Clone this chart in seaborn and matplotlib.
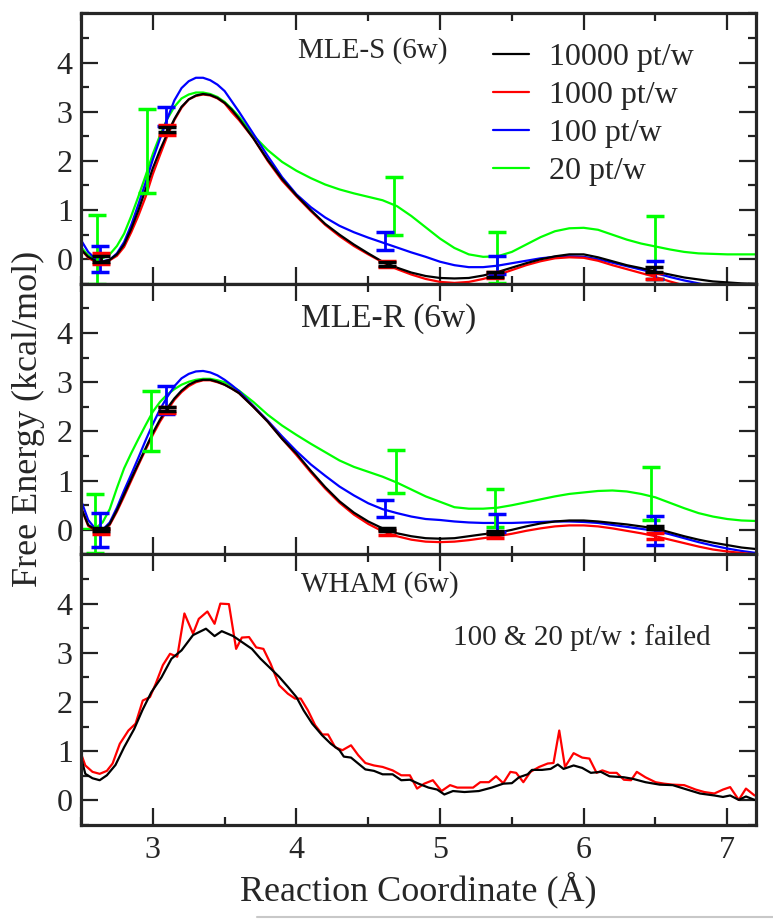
import pandas as pd
import matplotlib
matplotlib.use('Agg')
import matplotlib.pyplot as plt
import seaborn as sns
from matplotlib.lines import Line2D
from matplotlib.ticker import MultipleLocator, FixedLocator

# series names and colours (xmgrace style)
series = ['10000 pt/w', '1000 pt/w', '100 pt/w', '20 pt/w']
palette = {'10000 pt/w': '#000000', '1000 pt/w': '#ff0000',
           '100 pt/w': '#0000ff', '20 pt/w': '#00ff00'}

# reaction coordinate grid used by the smooth MLE curves (finer over the first barrier)
grid = [2.5, 2.55, 2.6, 2.65, 2.7, 2.75, 2.8, 2.85, 2.9, 2.95, 3.0, 3.05, 3.1, 3.15, 3.2,
        3.25, 3.3, 3.35, 3.4, 3.45, 3.5, 3.55,
        3.6, 3.7, 3.8, 3.9, 4.0, 4.1, 4.2, 4.3, 4.4, 4.5, 4.6, 4.7, 4.8, 4.9, 5.0, 5.1, 5.2,
        5.3, 5.4, 5.5, 5.6, 5.7, 5.8, 5.9, 6.0, 6.1, 6.2, 6.3, 6.4, 6.5, 6.6, 6.7,
        6.8, 6.9, 7.0, 7.1, 7.2]

# MLE-S curves
mles_10000 = [0.2, 0.05, -0.03, -0.05, -0.01, 0.1, 0.3, 0.62, 1.0, 1.42, 1.85, 2.22, 2.55, 2.85, 3.1,
              3.25, 3.33, 3.36, 3.34, 3.28, 3.18, 3.04, 2.86,
              2.46, 2.02, 1.63, 1.3, 1.0, 0.72, 0.5, 0.3, 0.12, -0.05, -0.17, -0.27, -0.34, -0.38, -0.39,
              -0.38, -0.33, -0.26, -0.17, -0.08, 0.0, 0.06, 0.1, 0.1, 0.04, -0.04, -0.12, -0.18, -0.25,
              -0.31, -0.37, -0.41, -0.45, -0.47, -0.49, -0.5]
mles_1000 = [0.2, 0.03, -0.05, -0.06, -0.02, 0.07, 0.25, 0.55, 0.89, 1.27, 1.73, 2.12, 2.5, 2.83, 3.08,
             3.25, 3.32, 3.35, 3.33, 3.27, 3.17, 2.99, 2.83,
             2.46, 2.0, 1.6, 1.28, 0.98, 0.7, 0.47, 0.27, 0.1, -0.06, -0.2, -0.31, -0.4, -0.46, -0.48,
             -0.46, -0.4, -0.32, -0.22, -0.12, -0.04, 0.02, 0.04, 0.03, -0.03, -0.12, -0.2, -0.28, -0.36,
             -0.45, -0.53, -0.6, -0.65, -0.68, -0.7, -0.7]
mles_100 = [0.39, 0.15, 0.01, -0.04, -0.01, 0.12, 0.35, 0.7, 1.12, 1.56, 2.03, 2.45, 2.85, 3.23, 3.48,
            3.62, 3.69, 3.69, 3.64, 3.55, 3.42, 3.21, 3.0,
            2.55, 2.1, 1.67, 1.32, 1.06, 0.85, 0.68, 0.55, 0.44, 0.34, 0.24, 0.14, 0.05, -0.05, -0.12,
            -0.16, -0.16, -0.13, -0.08, -0.03, 0.02, 0.05, 0.06, 0.05, 0.0, -0.07, -0.14, -0.21, -0.28,
            -0.36, -0.43, -0.49, -0.55, -0.6, -0.65, -0.68]
mles_20 = [0.25, 0.08, 0.01, 0.02, 0.1, 0.27, 0.52, 0.88, 1.28, 1.7, 2.14, 2.52, 2.85, 3.1, 3.27,
           3.35, 3.39, 3.39, 3.36, 3.3, 3.2, 3.06, 2.9,
           2.52, 2.22, 1.98, 1.8, 1.65, 1.52, 1.42, 1.34, 1.27, 1.2, 1.08, 0.88, 0.65, 0.42, 0.23,
           0.1, 0.05, 0.06, 0.15, 0.3, 0.45, 0.57, 0.63, 0.64, 0.6, 0.5, 0.4, 0.32, 0.26,
           0.2, 0.15, 0.12, 0.11, 0.1, 0.1, 0.1]

# MLE-R curves
mler_10000 = [0.45, 0.1, 0.0, -0.01, 0.12, 0.4, 0.72, 1.04, 1.35, 1.66, 1.97, 2.24, 2.47, 2.67, 2.83,
              2.95, 3.02, 3.05, 3.05, 3.01, 2.95, 2.87, 2.78,
              2.5, 2.2, 1.85, 1.55, 1.2, 0.87, 0.58, 0.35, 0.17, 0.03, -0.07, -0.13, -0.17, -0.18, -0.17,
              -0.13, -0.09, -0.06, 0.0, 0.07, 0.13, 0.17, 0.19, 0.19, 0.17, 0.14, 0.11, 0.07, 0.03,
              -0.05, -0.13, -0.2, -0.26, -0.31, -0.36, -0.39]
mler_1000 = [0.45, 0.08, -0.02, -0.03, 0.1, 0.37, 0.68, 1.0, 1.32, 1.63, 1.93, 2.2, 2.43, 2.64, 2.8,
             2.92, 3.0, 3.04, 3.04, 3.0, 2.95, 2.87, 2.78,
             2.5, 2.2, 1.85, 1.52, 1.17, 0.84, 0.55, 0.31, 0.12, -0.03, -0.13, -0.2, -0.24, -0.25, -0.24,
             -0.21, -0.17, -0.13, -0.08, -0.02, 0.03, 0.07, 0.09, 0.09, 0.07, 0.03, -0.02, -0.07, -0.13,
             -0.2, -0.27, -0.34, -0.4, -0.44, -0.47, -0.5]
mler_100 = [0.6, 0.2, 0.02, 0.0, 0.15, 0.45, 0.8, 1.13, 1.47, 1.82, 2.15, 2.45, 2.7, 2.92, 3.08,
            3.17, 3.22, 3.23, 3.2, 3.14, 3.05, 2.94, 2.82,
            2.52, 2.22, 1.9, 1.6, 1.33, 1.1, 0.88, 0.7, 0.54, 0.42, 0.34, 0.27, 0.22, 0.2, 0.17,
            0.15, 0.14, 0.14, 0.14, 0.15, 0.16, 0.17, 0.17, 0.16, 0.14, 0.1, 0.06, 0.02, -0.02,
            -0.09, -0.17, -0.25, -0.32, -0.38, -0.43, -0.47]
mler_20 = [0.02, 0.02, 0.03, 0.15, 0.42, 0.85, 1.25, 1.56, 1.85, 2.13, 2.4, 2.6, 2.75, 2.86, 2.95,
           3.01, 3.05, 3.07, 3.07, 3.04, 3.0, 2.92, 2.83,
           2.6, 2.34, 2.12, 1.93, 1.75, 1.58, 1.41, 1.28, 1.18, 1.08, 0.96, 0.82, 0.68, 0.57, 0.46,
           0.43, 0.43, 0.45, 0.5, 0.56, 0.62, 0.68, 0.73, 0.76, 0.79, 0.8, 0.78, 0.73, 0.66,
           0.55, 0.44, 0.34, 0.27, 0.22, 0.19, 0.18]

# error bars (x, centre, half width)
mles_err_x = {'10000 pt/w': [2.64, 3.1, 4.63, 5.38, 6.49], '1000 pt/w': [2.64, 3.1, 4.63, 5.38, 6.49],
              '100 pt/w': [2.63, 3.09, 4.62, 5.4, 6.5], '20 pt/w': [2.61, 2.96, 4.68, 5.4, 6.5]}
mles_err_y = {'10000 pt/w': [0.0, 2.64, -0.09, -0.3, -0.2], '1000 pt/w': [0.01, 2.62, -0.09, -0.32, -0.34],
              '100 pt/w': [0.0, 2.9, 0.37, -0.11, -0.22], '20 pt/w': [0.2, 2.2, 1.08, 0.03, 0.24]}
mles_err = {'10000 pt/w': [0.06, 0.05, 0.04, 0.05, 0.05], '1000 pt/w': [0.11, 0.1, 0.06, 0.07, 0.07],
            '100 pt/w': [0.26, 0.2, 0.18, 0.18, 0.19], '20 pt/w': [0.7, 0.85, 0.59, 0.52, 0.64]}

mler_err_x = {'10000 pt/w': [2.64, 3.1, 4.63, 5.38, 6.5], '1000 pt/w': [2.64, 3.1, 4.63, 5.38, 6.5],
              '100 pt/w': [2.63, 3.09, 4.62, 5.4, 6.5], '20 pt/w': [2.6, 2.99, 4.69, 5.38, 6.47]}
mler_err_y = {'10000 pt/w': [0.0, 2.45, 0.0, -0.06, 0.04], '1000 pt/w': [-0.03, 2.43, -0.05, -0.12, -0.12],
              '100 pt/w': [0.0, 2.64, 0.43, 0.14, -0.01], '20 pt/w': [0.12, 2.21, 1.19, 0.44, 0.73]}
mler_err = {'10000 pt/w': [0.03, 0.04, 0.03, 0.03, 0.03], '1000 pt/w': [0.05, 0.06, 0.05, 0.05, 0.06],
            '100 pt/w': [0.35, 0.29, 0.17, 0.19, 0.3], '20 pt/w': [0.6, 0.61, 0.44, 0.38, 0.54]}

# WHAM histograms
wham_10000_x = [2.5, 2.53, 2.58, 2.63, 2.68, 2.74, 2.8, 2.87, 2.93, 2.99, 3.06, 3.13, 3.2, 3.28, 3.37,
                3.43, 3.48, 3.56, 3.62, 3.69, 3.75, 3.81, 3.88, 3.94, 4.0, 4.05, 4.11, 4.18, 4.24, 4.3,
                4.33, 4.38, 4.43, 4.48, 4.54, 4.6, 4.67, 4.73, 4.79, 4.85, 4.92, 4.98, 5.03, 5.09, 5.17,
                5.27, 5.36, 5.44, 5.5, 5.55, 5.61, 5.64, 5.71, 5.77, 5.82, 5.86, 5.93, 5.99, 6.05, 6.12,
                6.18, 6.28, 6.34, 6.43, 6.53, 6.62, 6.72, 6.81, 6.91, 6.97, 7.02, 7.08, 7.13, 7.19]
wham_10000_y = [0.88, 0.54, 0.45, 0.41, 0.51, 0.72, 1.08, 1.45, 1.85, 2.2, 2.5, 2.88, 3.05, 3.36, 3.49,
                3.34, 3.44, 3.34, 3.22, 3.08, 2.88, 2.71, 2.51, 2.31, 2.1, 1.83, 1.56, 1.32, 1.15, 1.02,
                0.89, 0.87, 0.75, 0.63, 0.6, 0.53, 0.53, 0.41, 0.42, 0.34, 0.26, 0.22, 0.12, 0.19, 0.17,
                0.19, 0.26, 0.34, 0.35, 0.47, 0.53, 0.62, 0.62, 0.64, 0.73, 0.64, 0.71, 0.66, 0.56, 0.58,
                0.49, 0.47, 0.44, 0.37, 0.32, 0.31, 0.22, 0.14, 0.1, 0.07, 0.1, 0.01, 0.08, 0.01]
wham_1000_x = [2.5, 2.53, 2.58, 2.63, 2.68, 2.72, 2.77, 2.83, 2.88, 2.93, 2.98, 3.02, 3.07, 3.12, 3.17,
               3.22, 3.28, 3.32, 3.38, 3.43, 3.47, 3.53, 3.58, 3.62, 3.67, 3.72, 3.77, 3.82, 3.88, 3.94,
               3.99, 4.03, 4.08, 4.13, 4.18, 4.22, 4.27, 4.32, 4.38, 4.43, 4.48, 4.54, 4.6, 4.67, 4.73,
               4.79, 4.84, 4.89, 4.95, 5.01, 5.07, 5.12, 5.17, 5.23, 5.28, 5.34, 5.39, 5.44, 5.49, 5.53,
               5.58, 5.63, 5.69, 5.75, 5.79, 5.83, 5.87, 5.93, 5.99, 6.04, 6.09, 6.13, 6.18, 6.23, 6.28,
               6.33, 6.37, 6.43, 6.5, 6.56, 6.62, 6.7, 6.78, 6.84, 6.91, 6.97, 7.02, 7.08, 7.13, 7.19]
wham_1000_y = [0.95, 0.71, 0.58, 0.54, 0.6, 0.75, 1.15, 1.42, 1.56, 2.03, 2.1, 2.37, 2.75, 2.98, 2.92,
               3.8, 3.39, 3.69, 3.84, 3.59, 4.0, 3.99, 3.08, 3.31, 3.32, 3.11, 3.08, 2.78, 2.34, 2.17,
               2.07, 2.07, 1.83, 1.53, 1.34, 1.34, 1.08, 1.02, 1.12, 0.92, 0.76, 0.71, 0.68, 0.61, 0.51,
               0.51, 0.24, 0.34, 0.41, 0.19, 0.31, 0.26, 0.26, 0.26, 0.37, 0.37, 0.49, 0.35, 0.58, 0.56,
               0.37, 0.58, 0.68, 0.75, 0.76, 1.42, 0.68, 0.96, 0.87, 0.85, 0.56, 0.61, 0.56, 0.56, 0.42,
               0.41, 0.58, 0.47, 0.37, 0.34, 0.32, 0.31, 0.22, 0.17, 0.14, 0.22, 0.27, 0.01, 0.24, 0.1]


sns.set_style('ticks')
plt.rcParams['font.family'] = ['Liberation Serif', 'DejaVu Serif']

draw_order = ['20 pt/w', '100 pt/w', '1000 pt/w', '10000 pt/w']


def long_frame(curves):
    parts = [pd.DataFrame({'x': grid, 'y': vals, 'series': name}) for name, vals in curves.items()]
    return pd.concat(parts, ignore_index=True)


fig, axes = plt.subplots(3, 1, figsize=(7.73, 9.19), dpi=100, sharex=True)
fig.subplots_adjust(left=0.1048, right=0.978, bottom=0.1023, top=0.9855, hspace=0)

panels = [
    (long_frame({'10000 pt/w': mles_10000, '1000 pt/w': mles_1000, '100 pt/w': mles_100, '20 pt/w': mles_20}),
     mles_err_x, mles_err_y, mles_err),
    (long_frame({'10000 pt/w': mler_10000, '1000 pt/w': mler_1000, '100 pt/w': mler_100, '20 pt/w': mler_20}),
     mler_err_x, mler_err_y, mler_err),
]

for ax, (df, ex, ey, ee) in zip(axes[:2], panels):
    sns.lineplot(data=df, x='x', y='y', hue='series', hue_order=draw_order, palette=palette,
                 estimator=None, errorbar=None, linewidth=1.6, legend=False, ax=ax)
    for name in draw_order:
        ax.errorbar(ex[name], ey[name], yerr=ee[name], fmt='none', ecolor=palette[name],
                    elinewidth=2.0, capsize=6.5, capthick=2.5, zorder=4)

wham = pd.concat([
    pd.DataFrame({'x': wham_1000_x, 'y': wham_1000_y, 'series': '1000 pt/w'}),
    pd.DataFrame({'x': wham_10000_x, 'y': wham_10000_y, 'series': '10000 pt/w'}),
], ignore_index=True)
sns.lineplot(data=wham, x='x', y='y', hue='series', hue_order=['1000 pt/w', '10000 pt/w'],
             palette=palette, estimator=None, errorbar=None, linewidth=1.6, legend=False, ax=axes[2])

for ax in axes:
    ax.set_xlim(2.5, 7.2)
    ax.set_ylim(-0.5, 5)
    ax.xaxis.set_major_locator(MultipleLocator(1))
    ax.xaxis.set_minor_locator(MultipleLocator(0.5))
    ax.yaxis.set_major_locator(FixedLocator([0, 1, 2, 3, 4]))
    ax.yaxis.set_minor_locator(MultipleLocator(0.5))
    ax.tick_params(which='both', direction='in', top=True, right=True, width=1.6, color='#222222')
    ax.tick_params(which='major', length=12.5, labelsize=23, pad=6)
    ax.tick_params(axis='x', which='major', pad=8)
    ax.tick_params(which='minor', length=6)
    ax.set_xlabel('')
    ax.set_ylabel('')
    for sp in ax.spines.values():
        sp.set_linewidth(2.3)

# legend in the top panel
handles = [Line2D([0], [0], color=palette[s], lw=1.6) for s in series]
axes[0].legend(handles, series, loc='upper left', bbox_to_anchor=(0.61, 0.89), frameon=False,
               fontsize=23, handlelength=1.15, handletextpad=0.6, labelspacing=0.27,
               borderaxespad=0, borderpad=0)

axes[0].text(4.01, 4.1, 'MLE-S (6w)', fontsize=21, va='baseline')
axes[1].text(4.03, 4.12, 'MLE-R (6w)', fontsize=24, va='baseline')
axes[2].text(4.03, 4.25, 'WHAM (6w)', fontsize=21, va='baseline')
axes[2].text(5.09, 3.15, '100 & 20 pt/w : failed', fontsize=21, va='baseline')

axes[2].set_xlabel('Reaction Coordinate (Å)', fontsize=26)
axes[2].xaxis.set_label_coords(0.5, -0.172)
fig.text(0.0479, 0.5446, 'Free Energy (kcal/mol)', rotation=90, rotation_mode='anchor',
         ha='center', va='baseline', fontsize=26)

# faint rule along the bottom edge of the original image
fig.add_artist(Line2D([257 / 773, 1.0], [0.0025, 0.0025], color='#c8c8c8', lw=1.5))

fig.savefig('out.png', dpi=100)
